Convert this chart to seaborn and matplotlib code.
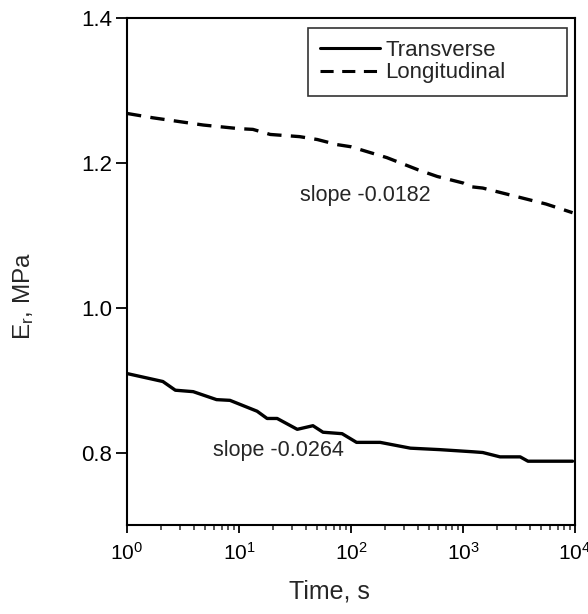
import numpy as np
import pandas as pd
import matplotlib
matplotlib.use("Agg")
import matplotlib.pyplot as plt
import seaborn as sns

# Data
long_time = [1, 1.7, 4.8, 10, 13.3, 19, 34.7, 50, 75, 100, 209, 400, 589, 1000, 1148, 1500, 3236, 5500, 9500]
long_e = [1.268, 1.262, 1.252, 1.247, 1.246, 1.239, 1.236, 1.232, 1.225, 1.222, 1.207, 1.190, 1.181, 1.172, 1.167, 1.165, 1.152, 1.143, 1.131]
trans_time = [1, 2.09, 2.7, 3.9, 6.3, 8.3, 14.5, 17.8, 21.9, 33.1, 45.7, 56.2, 83.2, 112, 182, 339, 617, 1230, 1500, 2138, 3236, 3800, 9500]
trans_e = [0.909, 0.898, 0.886, 0.884, 0.873, 0.872, 0.857, 0.847, 0.847, 0.832, 0.837, 0.828, 0.826, 0.814, 0.814, 0.806, 0.804, 0.801, 0.800, 0.794, 0.794, 0.788, 0.788]
series_names = ["Transverse", "Longitudinal"]
x_ticks = [1, 10, 100, 1000, 10000]
x_tick_labels = ["$10^0$", "$10^1$", "$10^2$", "$10^3$", "$10^4$"]
y_ticks = [0.8, 1.0, 1.2, 1.4]
slope_texts = ["slope -0.0182", "slope -0.0264"]
slope_pos = [(35.0, 1.1466), (5.86, 0.795)]

sns.set_theme(style="white")
plt.rcParams["font.family"] = ["Liberation Sans", "DejaVu Sans"]
plt.rcParams["mathtext.fontset"] = "custom"
plt.rcParams["mathtext.rm"] = "Liberation Sans"
plt.rcParams["mathtext.it"] = "Liberation Sans"
plt.rcParams["mathtext.default"] = "regular"

df = pd.concat([
    pd.DataFrame({"Time": trans_time, "E": trans_e, "Series": series_names[0]}),
    pd.DataFrame({"Time": long_time, "E": long_e, "Series": series_names[1]}),
], ignore_index=True)

fig = plt.figure(figsize=(5.88, 6.14), dpi=100)
ax = fig.add_axes([0.216, 0.145, 0.762, 0.826])

sns.lineplot(data=df, x="Time", y="E", hue="Series", style="Series",
             palette={series_names[0]: "black", series_names[1]: "black"},
             dashes={series_names[0]: "", series_names[1]: (4.3, 2.8)},
             linewidth=2.4, ax=ax, legend=True)

ax.set_xscale("log")
ax.set_xlim(1, 10000)
ax.set_ylim(0.7, 1.4)
ax.set_xticks(x_ticks)
ax.set_xticklabels(x_tick_labels)
ax.set_yticks(y_ticks)
ax.set_yticklabels([f"{v:.1f}" for v in y_ticks])

for s in ax.spines.values():
    s.set_linewidth(1.5)
    s.set_color("black")

ax.tick_params(axis="x", which="major", direction="out", length=6, width=1.3,
               labelsize=15, pad=6, bottom=True, colors="black")
ax.tick_params(axis="x", which="minor", direction="out", length=3.5, width=1.1, bottom=True)
ax.tick_params(axis="y", which="major", direction="out", length=8, width=1.3,
               labelsize=16, pad=2.5, left=True, colors="black")

ax.set_xlabel("Time, s", fontsize=18)
ax.xaxis.set_label_coords(0.451, -0.108)
ax.set_ylabel("E$_r$, MPa", fontsize=17.5)
ax.yaxis.set_label_coords(-0.203, 0.451)

for txt, (tx, ty) in zip(slope_texts, slope_pos):
    ax.text(tx, ty, txt, fontsize=15.5, va="baseline", ha="left")

leg = ax.legend(loc="upper left", bbox_to_anchor=(0.404, 0.0, 0.578, 0.980),
                mode="expand", borderaxespad=0.0, fontsize=16,
                handlelength=2.7, handletextpad=0.22, frameon=True, fancybox=False,
                borderpad=0.55, labelspacing=0.05, title=None)
leg.get_frame().set_edgecolor("black")
leg.get_frame().set_linewidth(1.2)
for line in leg.get_lines():
    line.set_linewidth(2.2)

fig.savefig("out.png", dpi=100)
